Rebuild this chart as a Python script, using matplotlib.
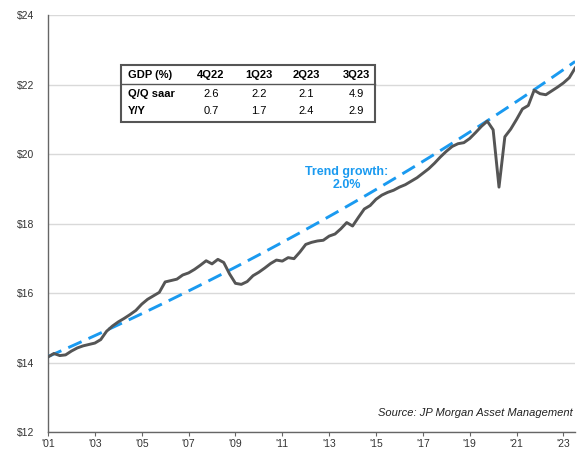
import numpy as np
import matplotlib.pyplot as plt

plt.rcParams['font.family'] = ['Liberation Sans', 'DejaVu Sans']

# Real GDP, trillions of chained dollars, quarterly 1Q01 - 3Q23
gdp = [14.16, 14.26, 14.20, 14.22,
       14.33, 14.42, 14.48, 14.52,
       14.56, 14.66, 14.90, 15.05,
       15.17, 15.27, 15.38, 15.50,
       15.68, 15.82, 15.92, 16.02,
       16.32, 16.36, 16.40, 16.52,
       16.58, 16.68, 16.80, 16.93,
       16.84, 16.97, 16.88, 16.55,
       16.28, 16.25, 16.33, 16.50,
       16.60, 16.72, 16.85, 16.95,
       16.92, 17.02, 16.99, 17.18,
       17.40, 17.46, 17.50, 17.52,
       17.64, 17.70, 17.85, 18.03,
       17.93, 18.18, 18.42, 18.52,
       18.70, 18.82, 18.90, 18.96,
       19.05, 19.12, 19.22, 19.32,
       19.45, 19.58, 19.74, 19.92,
       20.08, 20.22, 20.30, 20.33,
       20.45, 20.62, 20.80, 20.95,
       20.70, 19.05, 20.50, 20.72,
       21.00, 21.30, 21.40, 21.84,
       21.74, 21.71, 21.82, 21.93,
       22.05, 22.20, 22.48]
start_year = 2001
quarters = start_year + np.arange(len(gdp)) * 0.25

# Trend line parameters
trend_start = 14.17
trend_rate = 0.0211
trend = trend_start * (1 + trend_rate) ** (quarters - start_year)

# Table data
tbl_cols = ["GDP (%)", "4Q22", "1Q23", "2Q23", "3Q23"]
tbl_rows = ["Q/Q saar", "Y/Y"]
tbl_vals = [[2.6, 2.2, 2.1, 4.9],
            [0.7, 1.7, 2.4, 2.9]]

yticks = [12, 14, 16, 18, 20, 22, 24]
xticks = list(range(2001, 2024, 2))

fig = plt.figure(figsize=(5.87, 4.54), dpi=100)
ax = fig.add_axes([0.0818, 0.0485, 0.898, 0.918])

ax.plot(quarters, trend, color='#1a9af0', lw=2.1, dashes=(5, 2.6), zorder=3)
ax.plot(quarters, gdp, color='#555555', lw=2.1, zorder=4, solid_joinstyle='round')

ax.set_xlim(start_year, quarters[-1])
ax.set_ylim(12, 24)
ax.set_yticks(yticks)
ax.set_yticklabels(['$%d' % v for v in yticks], fontsize=7.5, color='#333333')
ax.set_xticks(xticks)
ax.set_xticklabels(["'%02d" % (v % 100) for v in xticks], fontsize=7.5, color='#333333')
ax.tick_params(axis='y', length=0, pad=10)
ax.tick_params(axis='x', length=3, color='#666666', pad=2)
ax.grid(axis='y', color='#d9d9d9', lw=1.0)
ax.set_axisbelow(True)
for s in ['top', 'right']:
    ax.spines[s].set_visible(False)
for s in ['left', 'bottom']:
    ax.spines[s].set_color('#666666')
    ax.spines[s].set_linewidth(1.0)

# Trend label
ax.text(2013.75, 19.3, "Trend growth:\n2.0%", color='#1a9af0', fontsize=9,
        fontweight='bold', ha='center', va='center', linespacing=1.1)

# Source
ax.text(2023.4, 12.55, "Source: JP Morgan Asset Management", fontsize=8,
        style='italic', ha='right', va='center', color='#222222')

# Summary table drawn in figure pixel coordinates
W, H = 587, 454
def fx(px):
    return px / W
def fy(py):
    return 1 - py / H

box = plt.Rectangle((fx(121), fy(121.5)), fx(375) - fx(121), fy(65) - fy(121.5),
                    transform=fig.transFigure, fill=True, facecolor='white',
                    edgecolor='#555555', lw=1.5, zorder=5)
fig.add_artist(box)
fig.add_artist(plt.Line2D([fx(121), fx(375)], [fy(83.5), fy(83.5)],
                          transform=fig.transFigure, color='#555555', lw=1.0, zorder=6))
col_x = [128, 211, 259, 306, 356]
row_y = [75.5, 94, 111]
fig.text(fx(col_x[0]), fy(row_y[0]), tbl_cols[0], fontsize=8, fontweight='bold',
         ha='left', va='center', zorder=7)
for j, c in enumerate(tbl_cols[1:]):
    fig.text(fx(col_x[j + 1]), fy(row_y[0]), c, fontsize=8, fontweight='bold',
             ha='center', va='center', zorder=7)
for i, r in enumerate(tbl_rows):
    fig.text(fx(col_x[0]), fy(row_y[i + 1]), r, fontsize=8, fontweight='bold',
             ha='left', va='center', zorder=7)
    for j, v in enumerate(tbl_vals[i]):
        fig.text(fx(col_x[j + 1]), fy(row_y[i + 1]), '%.1f' % v, fontsize=8,
                 ha='center', va='center', zorder=7)

fig.savefig('out.png', dpi=100)
